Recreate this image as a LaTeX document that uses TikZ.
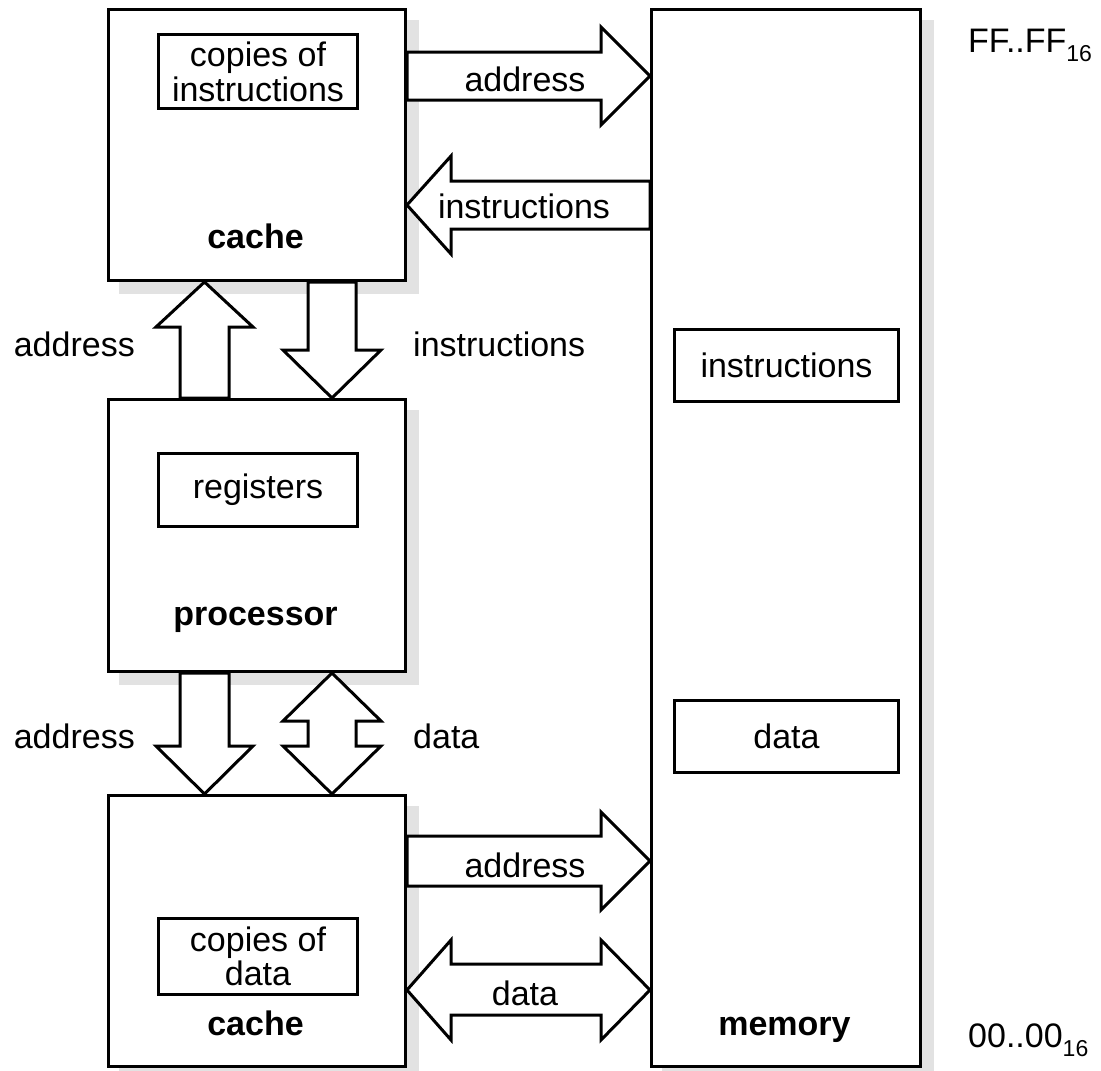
\documentclass[tikz,border=0pt]{standalone}
\usepackage{fontspec}
\setmainfont{Liberation Sans}
\usetikzlibrary{calc,backgrounds}
\definecolor{shadowgray}{RGB}{226,226,226}
\begin{document}
\begin{tikzpicture}[x=1pt,y=-1pt,
  font=\fontsize{34}{36}\selectfont,
  bigbox/.style={draw, line width=3pt, fill=white, inner sep=0pt, anchor=north west},
  smallbox/.style={draw, line width=3pt, fill=white, inner sep=0pt, anchor=north west, align=center},
  arr/.style={draw, line width=3pt, fill=white, line join=miter},
  lbl/.style={inner sep=0pt, anchor=base},
  sub/.style={inner sep=0pt, anchor=base west}]
\useasboundingbox (0,0) rectangle (1101,1071);

% main boxes
\node[bigbox, minimum width=297pt, minimum height=271pt] (c1) at (107,8) {};
\node[bigbox, minimum width=297pt, minimum height=272pt] (p) at (107,398) {};
\node[bigbox, minimum width=297pt, minimum height=271pt] (c2) at (107,794) {};
\node[bigbox, minimum width=269pt, minimum height=1057pt] (mem) at (650,8) {};

% shadows
\begin{scope}[on background layer]
  \foreach \b in {c1,p,c2,mem}
    \fill[shadowgray] ($(\b.north west)+(12,12)$) rectangle ($(\b.south east)+(12,12)$);
\end{scope}

% inner boxes
\node[smallbox, minimum width=199pt, minimum height=74pt] (ci) at (157,33) {copies of\\[-1pt]instructions};
\node[smallbox, minimum width=199pt, minimum height=73pt] (reg) at (157,452) {registers};
\node[smallbox, minimum width=199pt, minimum height=76pt] (cd) at (157,917) {copies of\\[-2pt]data};
\node[smallbox, minimum width=224pt, minimum height=72pt] (mi) at (673,328) {instructions};
\node[smallbox, minimum width=224pt, minimum height=72pt] (md) at (673,699) {data};

% box titles
\node[lbl] (t1) at (255.5,248) {\bfseries cache};
\node[lbl] (t2) at (255.5,625) {\bfseries processor};
\node[lbl] (t3) at (255.5,1035) {\bfseries cache};
\node[lbl] (t4) at (784.5,1035) {\bfseries memory};

% arrows cache(top) <-> memory
\filldraw[arr] (c1.east |- 0,52) -- (601,52) -- (601,27) -- (mem.west |- 0,76)
  -- (601,125) -- (601,100) -- (c1.east |- 0,100) -- cycle;
\filldraw[arr] (mem.west |- 0,181) -- (451,181) -- (451,156) -- (c1.east |- 0,205)
  -- (451,254) -- (451,229) -- (mem.west |- 0,229) -- cycle;

% arrows cache(top) <-> processor
\filldraw[arr] (180,0 |- p.north) -- (180,327) -- (156,327) -- (204.5,0 |- c1.south)
  -- (253,327) -- (229,327) -- (229,0 |- p.north) -- cycle;
\filldraw[arr] (308,0 |- c1.south) -- (308,350) -- (283,350) -- (332,0 |- p.north)
  -- (381,350) -- (356,350) -- (356,0 |- c1.south) -- cycle;

% arrows processor <-> cache(bottom)
\filldraw[arr] (180,0 |- p.south) -- (180,746) -- (156,746) -- (204.5,0 |- c2.north)
  -- (253,746) -- (229,746) -- (229,0 |- p.south) -- cycle;
\filldraw[arr] (332,0 |- p.south) -- (381,721) -- (356,721) -- (356,746) -- (381,746)
  -- (332,0 |- c2.north) -- (283,746) -- (308,746) -- (308,721) -- (283,721) -- cycle;

% arrows cache(bottom) <-> memory
\filldraw[arr] (c2.east |- 0,836) -- (601,836) -- (601,812) -- (mem.west |- 0,861)
  -- (601,910) -- (601,886) -- (c2.east |- 0,886) -- cycle;
\filldraw[arr] (c2.east |- 0,990) -- (451,940) -- (451,964) -- (601,964) -- (601,940)
  -- (mem.west |- 0,990) -- (601,1040) -- (601,1015) -- (451,1015) -- (451,1040) -- cycle;

% arrow labels
\node[lbl] (l1) at (525,91) {address};
\node[lbl] (l2) at (524,218) {instructions};
\node[lbl] (l3) at (525,877) {address};
\node[lbl] (l4) at (525,1005) {data};
\node[lbl, anchor=base east] (l5) at (135,356) {address};
\node[lbl, anchor=base west] (l6) at (413,356) {instructions};
\node[lbl, anchor=base east] (l7) at (135,748) {address};
\node[lbl, anchor=base west] (l8) at (413,748) {data};

% address range
\node[sub] (hi) at (968,52) {FF..FF\raisebox{-9pt}{\fontsize{23}{23}\selectfont 16}};
\node[sub] (lo) at (968,1047) {00..00\raisebox{-9pt}{\fontsize{23}{23}\selectfont 16}};
\end{tikzpicture}
\end{document}
